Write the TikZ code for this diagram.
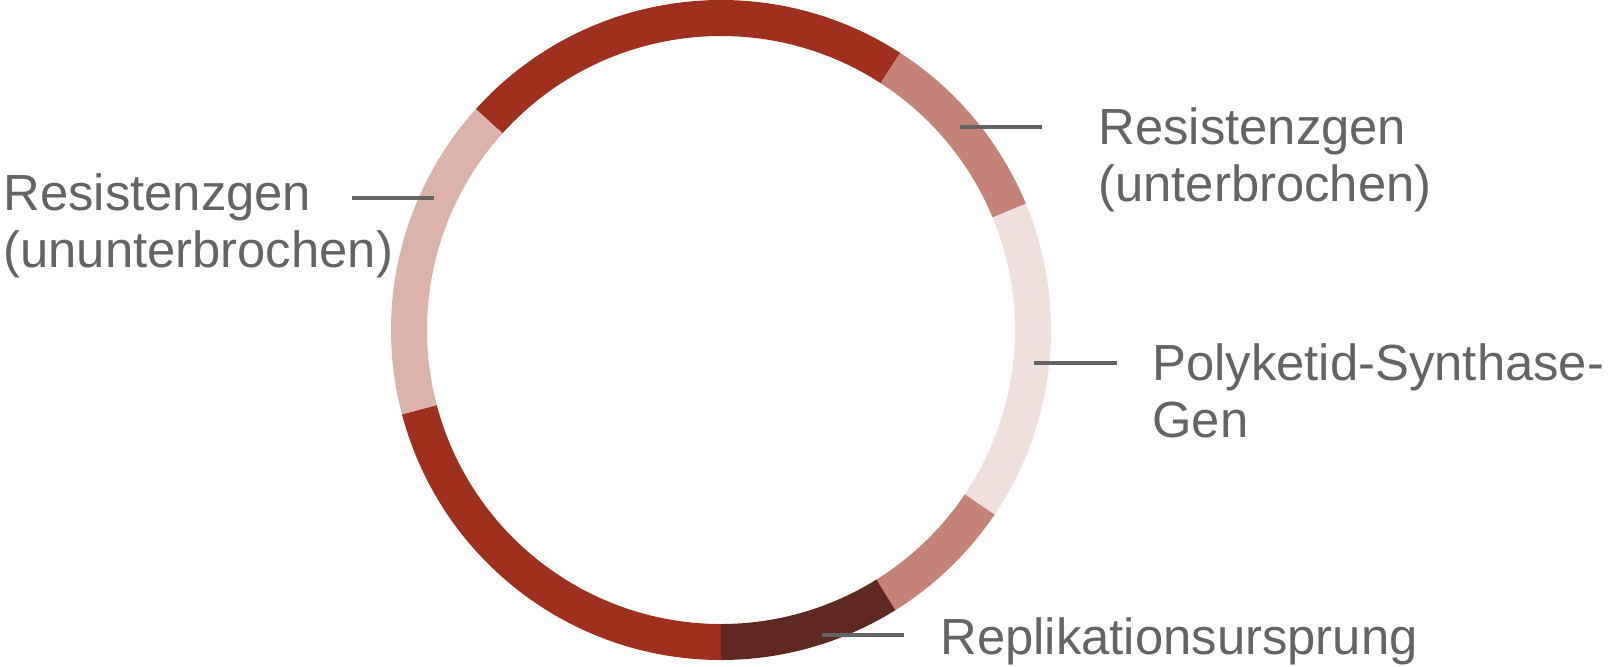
\documentclass[tikz,border=0pt]{standalone}
\usepackage{fontspec}
\setmainfont{Liberation Sans}
\definecolor{cDark}{HTML}{A0301E}
\definecolor{cMid}{HTML}{C48376}
\definecolor{cPink}{HTML}{DCB3AA}
\definecolor{cPale}{HTML}{F0E0DD}
\definecolor{cBrown}{HTML}{5F2820}
\definecolor{cText}{HTML}{646464}
\newcommand{\ringseg}[3]{%
  \fill[#3] (#1:330) arc[start angle=#1, end angle=#2, radius=330]
     -- (#2:294) arc[start angle=#2, end angle=#1, radius=294] -- cycle;}
\begin{document}
\begin{tikzpicture}[x=0.5pt,y=0.5pt,
  lbl/.style={anchor=base west, inner sep=0pt, align=left, text=cText,
    font=\fontsize{25.4}{28.5}\selectfont},
  leader/.style={draw=cText, line width=2pt}]
\useasboundingbox (0,0) rectangle (1612,-666);
\begin{scope}[shift={(721,-330)}]
  \ringseg{57.1}{138}{cDark}
  \ringseg{22.5}{57.1}{cMid}
  \ringseg{-34}{22.5}{cPale}
  \ringseg{-58.1}{-34}{cMid}
  \ringseg{-90}{-58.1}{cBrown}
  \ringseg{194.8}{270}{cDark}
  \ringseg{138}{194.8}{cPink}
\end{scope}
\node[lbl] (t1) at (1098,-201) {Resistenzgen\\(unterbrochen)};
\node[lbl] (t2) at (3,-267) {Resistenzgen\\(ununterbrochen)};
\node[lbl] (t3) at (1152,-437) {Polyketid-Synthase-\\Gen};
\node[lbl] (t4) at (940,-654) {Replikationsursprung};
\coordinate (a1) at (960,-127); \coordinate (b1) at (1042,-127);
\coordinate (a2) at (434,-198); \coordinate (b2) at (352,-198);
\coordinate (a3) at (1034,-363); \coordinate (b3) at (1117,-363);
\coordinate (a4) at (822,-635); \coordinate (b4) at (904,-635);
\draw[leader] (a1) -- (b1);
\draw[leader] (a2) -- (b2);
\draw[leader] (a3) -- (b3);
\draw[leader] (a4) -- (b4);
\end{tikzpicture}
\end{document}
